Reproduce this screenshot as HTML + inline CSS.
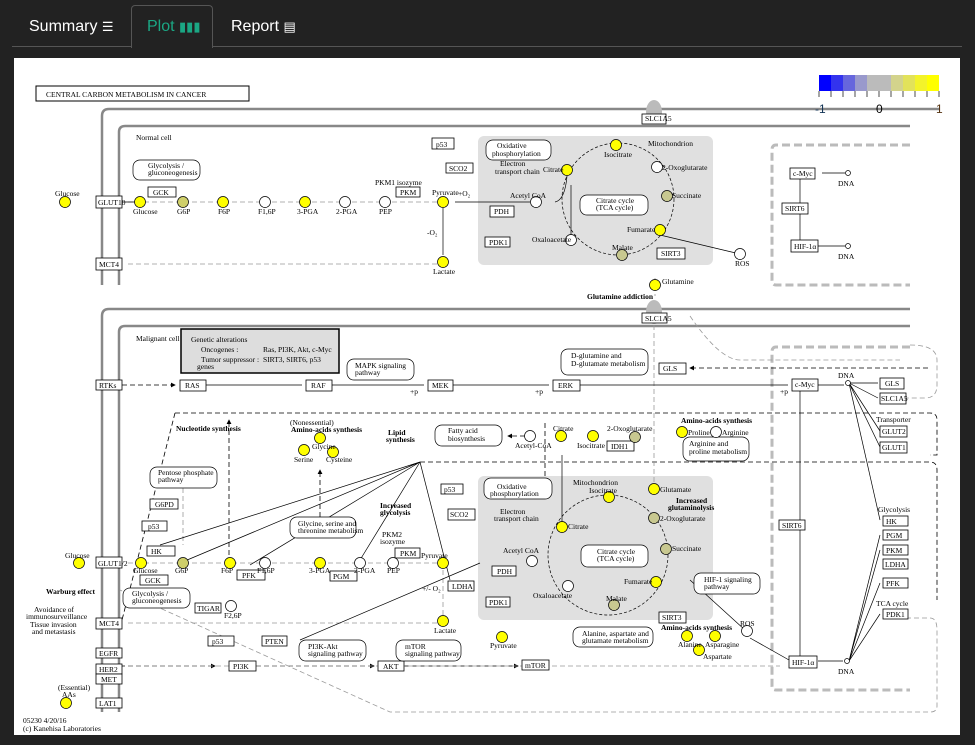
<!DOCTYPE html>
<html><head><meta charset="utf-8"><style>
html,body{margin:0;padding:0;background:#222;width:975px;height:745px;overflow:hidden}
.tab{position:absolute;top:1px;height:47px;font-family:"Liberation Sans",sans-serif;font-size:16px;color:#fff;line-height:52px}
svg text{font-family:"Liberation Serif",serif;font-size:7.5px;fill:#000}
</style></head><body>
<div style="position:absolute;left:12px;top:46px;width:950px;height:1px;background:#555"></div>
<div style="position:absolute;left:131px;top:5px;width:80px;height:42px;border:1px solid #555;border-bottom:none;border-radius:4px 4px 0 0;background:#222"></div>
<div class="tab" style="left:29px">Summary <span style="font-size:13px">☰</span></div>
<div class="tab" style="left:147px;color:#1ba784">Plot <span style="font-size:13px">▮▮▮</span></div>
<div class="tab" style="left:231px">Report <span style="font-size:13px">▤</span></div>
<svg style="position:absolute;left:0;top:0" width="975" height="745" viewBox="0 0 975 745">
<defs>
<marker id="a" markerWidth="6" markerHeight="6" refX="5" refY="3" orient="auto"><path d="M0,0L6,3L0,6z" fill="#000"/></marker>
</defs>
<rect x="14" y="58" width="946" height="677" fill="#fff"/>
<rect x="36" y="86" width="213" height="15" fill="#fff" stroke="#000"/>
<text x="46" y="97">CENTRAL CARBON METABOLISM IN CANCER</text>
<g>
<rect x="819" y="75" width="12" height="16" fill="#0000ff"/><rect x="831" y="75" width="12" height="16" fill="#3333ee"/><rect x="843" y="75" width="12" height="16" fill="#6666dd"/><rect x="855" y="75" width="12" height="16" fill="#9999cc"/><rect x="867" y="75" width="12" height="16" fill="#bbbbbb"/><rect x="879" y="75" width="12" height="16" fill="#bbbbbb"/><rect x="891" y="75" width="12" height="16" fill="#d3d38c"/><rect x="903" y="75" width="12" height="16" fill="#e2e25a"/><rect x="915" y="75" width="12" height="16" fill="#f3f32a"/><rect x="927" y="75" width="12" height="16" fill="#ffff00"/>
<path d="M819,91V97M831,91V97M843,91V97M855,91V97M867,91V97M879,91V97M891,91V97M903,91V97M915,91V97M927,91V97M939,91V97" stroke="#000" stroke-width="0.7"/>
</g>
<g fill="none" stroke="#888" stroke-width="2.5">
<path d="M102,285 V116 Q102,109 109,109 H940"/>
<path d="M119,285 V132 Q119,126 125,126 H910"/>
<path d="M102,712 V316 Q102,309 109,309 H910"/>
<path d="M119,712 V332 Q119,326 125,326 H910"/>
</g>
<text x="815" y="113" style="font-family:'Liberation Sans';font-size:12px;fill:#135">-1</text>
<text x="876" y="113" style="font-family:'Liberation Sans';font-size:12px">0</text>
<text x="936" y="113" style="font-family:'Liberation Sans';font-size:12px;fill:#531">1</text>
<rect x="478" y="136" width="235" height="129" rx="6" fill="#e0e0e0"/>
<rect x="478" y="476" width="235" height="144" rx="6" fill="#e0e0e0"/>
<ellipse cx="654" cy="112" rx="8" ry="12" fill="#bbb"/>
<ellipse cx="654" cy="312" rx="8" ry="12" fill="#bbb"/>
<g fill="none" stroke="#bbb" stroke-width="3" stroke-dasharray="8,4">
<path d="M910,145 H776 Q772,145 772,150 V280 Q772,285 776,285 H910"/>
<path d="M910,347 H776 Q772,347 772,352 V686 Q772,690 776,690 H910"/>
</g>
<g fill="none" stroke="#000" stroke-width="0.8" stroke-dasharray="5,3">
<path d="M175,413 H930 Q937,413 937,420 V455 H930"/>
<path d="M175,413 L122,620"/>
<path d="M420,462 H930 Q937,462 937,470 V600"/>
<path d="M545,476 V420"/>
<path d="M120,666 H215" marker-end="url(#a)"/>
<path d="M256,666 H374" marker-end="url(#a)"/>
<path d="M404,666 H518" marker-end="url(#a)"/>
<path d="M122,385 H175" marker-end="url(#a)"/>
<path d="M229,555 V420" marker-end="url(#a)"/>
<path d="M320,517 V470" marker-end="url(#a)"/>
<path d="M525,436 H508" marker-end="url(#a)"/>
<path d="M928,368 H690" marker-end="url(#a)"/>
</g>
<g fill="none" stroke="#999" stroke-width="0.8" stroke-dasharray="5,3">
<path d="M910,345 Q937,345 937,360 V385 Q937,398 925,398 H906"/>
<path d="M906,618 H930 Q937,618 937,630 V706 Q937,712 930,712 H390 L120,590"/>
<path d="M128,202 H440 M128,264 H440 M128,563 H440 M128,623 H440 M128,666 H780 M654,325 V486 M183,488 V545 M443,570 V615 M655,278 V296"/>
<path d="M690,316 Q720,360 740,360 H900"/>
</g>
<g fill="none" stroke="#000" stroke-width="0.7">
<path d="M122,202 H135 M455,202 H530 M443,208 V255 M822,173 H845 M818,246 H845 M800,179 V203 M800,214 V240"/>
<path d="M206,385 H302 M332,385 H424 M453,385 H549 M580,385 H788 M818,385 H844 M849,383 L878,383 M849,383 L878,398 M849,383 L880,431 M849,383 L880,447 M849,383 L880,520 M849,661 L880,535 M849,661 L880,550 M849,661 L880,583 M849,661 L880,614 M818,661 H843 M800,391 V520 M800,530 V656"/>
<path d="M555,202 Q565,200 567,176 M571,235 V185 M562,532 V455"/>
<circle cx="618" cy="199" r="56" stroke-dasharray="3,2"/>
<circle cx="608" cy="555" r="60" stroke-dasharray="3,2"/>
<path d="M420,462 L250,565 M420,462 L180,563 M420,462 L160,545 M420,462 L450,580 M420,462 L360,560 M300,640 L480,563 M690,580 L745,630 M750,638 L789,660 M660,235 L740,254"/>
</g>
<g fill="#fff" stroke="#000" stroke-width="0.8">
<rect x="96" y="196" width="26" height="12"/><rect x="148" y="187" width="28" height="10"/><rect x="396" y="187" width="24" height="10"/>
<rect x="96" y="258" width="26" height="12"/><rect x="432" y="138" width="22" height="11"/><rect x="446" y="163" width="27" height="10"/>
<rect x="490" y="206" width="24" height="11"/><rect x="485" y="237" width="25" height="10"/><rect x="657" y="248" width="28" height="11"/>
<rect x="642" y="114" width="24" height="10"/><rect x="790" y="168" width="25" height="11"/><rect x="782" y="203" width="26" height="11"/><rect x="791" y="240" width="27" height="12"/>
<rect x="642" y="313" width="25" height="10"/>
<rect x="181" y="329" width="158" height="44" fill="#ddd" stroke-width="1.5"/>
<rect x="96" y="380" width="26" height="10"/><rect x="180" y="380" width="26" height="11"/><rect x="306" y="380" width="26" height="11"/><rect x="428" y="380" width="25" height="11"/><rect x="553" y="380" width="27" height="11"/><rect x="792" y="379" width="26" height="12"/><rect x="880" y="378" width="24" height="11"/><rect x="880" y="393" width="26" height="11"/><rect x="659" y="363" width="27" height="11"/>
<rect x="607" y="441" width="27" height="10"/><rect x="880" y="426" width="27" height="11"/><rect x="880" y="442" width="27" height="11"/>
<rect x="883" y="516" width="25" height="10"/><rect x="883" y="530" width="25" height="10"/><rect x="883" y="545" width="25" height="10"/><rect x="883" y="559" width="25" height="10"/><rect x="883" y="578" width="25" height="10"/><rect x="883" y="609" width="25" height="10"/>
<rect x="779" y="520" width="26" height="10"/><rect x="492" y="566" width="24" height="10"/><rect x="486" y="597" width="24" height="10"/><rect x="659" y="612" width="27" height="11"/><rect x="522" y="660" width="27" height="10"/><rect x="789" y="656" width="28" height="12"/>
<rect x="441" y="484" width="22" height="10"/><rect x="448" y="509" width="27" height="11"/>
<rect x="96" y="557" width="26" height="11"/><rect x="147" y="546" width="28" height="10"/><rect x="140" y="575" width="28" height="10"/><rect x="237" y="570" width="28" height="10"/><rect x="330" y="571" width="27" height="10"/><rect x="395" y="548" width="25" height="10"/><rect x="448" y="581" width="26" height="10"/>
<rect x="195" y="603" width="26" height="10"/><rect x="208" y="636" width="26" height="10"/><rect x="262" y="636" width="25" height="10"/><rect x="229" y="661" width="27" height="10"/><rect x="378" y="661" width="26" height="10"/>
<rect x="96" y="618" width="26" height="11"/><rect x="96" y="648" width="26" height="10"/><rect x="96" y="664" width="26" height="10"/><rect x="96" y="674" width="26" height="10"/><rect x="96" y="698" width="26" height="10"/>
<rect x="150" y="499" width="28" height="10"/><rect x="142" y="521" width="25" height="10"/>
</g>
<g fill="#fff" stroke="#000" stroke-width="0.7">
<rect x="133" y="160" width="67" height="20" rx="7"/><rect x="486" y="140" width="65" height="20" rx="7"/><rect x="580" y="195" width="68" height="20" rx="7"/>
<rect x="561" y="349" width="87" height="26" rx="7"/><rect x="347" y="359" width="67" height="21" rx="7"/><rect x="435" y="425" width="67" height="21" rx="7"/><rect x="683" y="437" width="66" height="24" rx="7"/>
<rect x="484" y="478" width="68" height="21" rx="7"/><rect x="581" y="545" width="67" height="22" rx="7"/><rect x="694" y="573" width="66" height="21" rx="7"/><rect x="573" y="627" width="80" height="20" rx="7"/>
<rect x="150" y="467" width="67" height="21" rx="7"/><rect x="290" y="517" width="66" height="21" rx="7"/><rect x="123" y="588" width="67" height="20" rx="7"/><rect x="299" y="640" width="67" height="21" rx="7"/><rect x="396" y="640" width="65" height="21" rx="7"/>
</g>
<g stroke="#000" stroke-width="0.7">
<g fill="#ffff00">
<circle cx="65" cy="202" r="5.5"/><circle cx="140" cy="202" r="5.5"/><circle cx="223" cy="202" r="5.5"/><circle cx="305" cy="202" r="5.5"/><circle cx="443" cy="202" r="5.5"/><circle cx="443" cy="262" r="5.5"/>
<circle cx="567" cy="170" r="5.5"/><circle cx="616" cy="145" r="5.5"/><circle cx="660" cy="230" r="5.5"/><circle cx="655" cy="285" r="5.5"/>
<circle cx="561" cy="436" r="5.5"/><circle cx="593" cy="436" r="5.5"/><circle cx="682" cy="432" r="5.5"/><circle cx="654" cy="489" r="5.5"/><circle cx="609" cy="497" r="5.5"/><circle cx="562" cy="527" r="5.5"/><circle cx="656" cy="582" r="5.5"/>
<circle cx="687" cy="636" r="5.5"/><circle cx="715" cy="636" r="5.5"/><circle cx="699" cy="650" r="5.5"/><circle cx="502" cy="637" r="5.5"/>
<circle cx="320" cy="438" r="5.5"/><circle cx="304" cy="450" r="5.5"/><circle cx="333" cy="452" r="5.5"/>
<circle cx="79" cy="563" r="5.5"/><circle cx="141" cy="563" r="5.5"/><circle cx="230" cy="563" r="5.5"/><circle cx="320" cy="563" r="5.5"/><circle cx="443" cy="563" r="5.5"/><circle cx="443" cy="621" r="5.5"/><circle cx="66" cy="703" r="5.5"/>
</g>
<g fill="#cfcf6a"><circle cx="183" cy="202" r="5.5"/><circle cx="183" cy="563" r="5.5"/></g>
<g fill="#c8c890"><circle cx="667" cy="196" r="5.5"/><circle cx="622" cy="255" r="5.5"/><circle cx="635" cy="437" r="5.5"/><circle cx="654" cy="518" r="5.5"/><circle cx="666" cy="549" r="5.5"/><circle cx="614" cy="605" r="5.5"/></g>
<g fill="#fff">
<circle cx="265" cy="202" r="5.5"/><circle cx="345" cy="202" r="5.5"/><circle cx="385" cy="202" r="5.5"/><circle cx="536" cy="202" r="5.5"/><circle cx="657" cy="167" r="5.5"/><circle cx="571" cy="240" r="5.5"/><circle cx="740" cy="254" r="5.5"/>
<circle cx="848" cy="173" r="2.5"/><circle cx="848" cy="246" r="2.5"/><circle cx="848" cy="383" r="2.5"/><circle cx="847" cy="661" r="2.5"/>
<circle cx="530" cy="436" r="5.5"/><circle cx="716" cy="432" r="5.5"/><circle cx="568" cy="586" r="5.5"/><circle cx="532" cy="561" r="5.5"/><circle cx="747" cy="631" r="5.5"/>
<circle cx="265" cy="563" r="5.5"/><circle cx="360" cy="563" r="5.5"/><circle cx="393" cy="563" r="5.5"/><circle cx="231" cy="606" r="5.5"/>
</g>
</g>
<g>
<text x="136" y="140">Normal cell</text>
<text x="148" y="168">Glycolysis /</text><text x="148" y="175">gluconeogenesis</text>
<text x="55" y="196" font-size="6">Glucose</text><text x="98" y="205">GLUT10</text><text x="153" y="195">GCK</text><text x="133" y="214">Glucose</text><text x="177" y="214">G6P</text><text x="218" y="214">F6P</text><text x="258" y="214">F1,6P</text><text x="297" y="214">3-PGA</text><text x="336" y="214">2-PGA</text><text x="379" y="214">PEP</text><text x="400" y="195">PKM</text><text x="375" y="185">PKM1 isozyme</text><text x="432" y="195">Pyruvate</text><text x="458" y="196">+O₂</text><text x="427" y="235">-O₂</text><text x="433" y="274">Lactate</text><text x="99" y="267">MCT4</text>
<text x="436" y="147">p53</text><text x="449" y="171">SCO2</text><text x="497" y="148">Oxidative</text><text x="492" y="156">phosphorylation</text><text x="500" y="166">Electron</text><text x="495" y="174">transport chain</text>
<text x="543" y="172">Citrate</text><text x="604" y="157">Isocitrate</text><text x="662" y="170">2-Oxoglutarate</text><text x="672" y="198">Succinate</text><text x="627" y="232">Fumarate</text><text x="612" y="250">Malate</text><text x="532" y="242">Oxaloacetate</text><text x="510" y="198">Acetyl CoA</text><text x="494" y="214">PDH</text><text x="489" y="245">PDK1</text><text x="661" y="256">SIRT3</text><text x="735" y="266">ROS</text><text x="596" y="203">Citrate cycle</text><text x="596" y="210">(TCA cycle)</text><text x="648" y="146">Mitochondrion</text>
<text x="645" y="121">SLC1A5</text><text x="793" y="176">c-Myc</text><text x="838" y="186">DNA</text><text x="785" y="211">SIRT6</text><text x="794" y="249">HIF-1α</text><text x="838" y="259">DNA</text>
<text x="662" y="284">Glutamine</text><text x="587" y="299" font-weight="bold">Glutamine addiction</text>
<text x="645" y="321">SLC1A5</text><text x="136" y="341">Malignant cell</text><text x="191" y="342">Genetic alterations</text><text x="201" y="352">Oncogenes :</text><text x="263" y="352">Ras, PI3K, Akt, c-Myc</text><text x="201" y="362">Tumor suppressor :</text><text x="263" y="362">SIRT3, SIRT6, p53</text><text x="197" y="369">genes</text>
<text x="99" y="388">RTKs</text><text x="185" y="388">RAS</text><text x="311" y="388">RAF</text><text x="432" y="388">MEK</text><text x="558" y="388">ERK</text><text x="410" y="394">+p</text><text x="535" y="394">+p</text><text x="780" y="394">+p</text><text x="355" y="368">MAPK signaling</text><text x="355" y="375">pathway</text><text x="571" y="358">D-glutamine and</text><text x="571" y="366">D-glutamate metabolism</text><text x="663" y="371">GLS</text>
<text x="795" y="387">c-Myc</text><text x="838" y="378">DNA</text><text x="885" y="386">GLS</text><text x="881" y="401">SLC1A5</text><text x="876" y="422">Transporter</text><text x="882" y="434">GLUT2</text><text x="882" y="450">GLUT1</text>
<text x="176" y="431" font-weight="bold">Nucleotide synthesis</text><text x="290" y="425">(Nonessential)</text><text x="291" y="432" font-weight="bold">Amino-acids synthesis</text><text x="312" y="449">Glycine</text><text x="294" y="462">Serine</text><text x="326" y="462">Cysteine</text><text x="388" y="435" font-weight="bold">Lipid</text><text x="386" y="442" font-weight="bold">synthesis</text><text x="448" y="433">Fatty acid</text><text x="448" y="441">biosynthesis</text>
<text x="515" y="448">Acetyl-CoA</text><text x="553" y="431">Citrate</text><text x="577" y="448">Isocitrate</text><text x="611" y="449">IDH1</text><text x="607" y="431">2-Oxoglutarate</text><text x="681" y="423" font-weight="bold">Amino-acids synthesis</text><text x="688" y="435">Proline</text><text x="722" y="435">Arginine</text><text x="689" y="446">Arginine and</text><text x="689" y="454">proline metabolism</text>
<text x="158" y="475">Pentose phosphate</text><text x="158" y="482">pathway</text><text x="155" y="507">G6PD</text><text x="148" y="529">p53</text><text x="444" y="492">p53</text><text x="450" y="517">SCO2</text><text x="380" y="508" font-weight="bold">Increased</text><text x="380" y="515" font-weight="bold">glycolysis</text><text x="382" y="537">PKM2</text><text x="380" y="544">isozyme</text>
<text x="497" y="489">Oxidative</text><text x="490" y="496">phosphorylation</text><text x="500" y="514">Electron</text><text x="494" y="521">transport chain</text><text x="573" y="485">Mitochondrion</text><text x="589" y="493">Isocitrate</text><text x="660" y="492">Glutamate</text><text x="676" y="503" font-weight="bold">Increased</text><text x="668" y="510" font-weight="bold">glutaminolysis</text><text x="660" y="521">2-Oxoglutarate</text><text x="568" y="529">Citrate</text><text x="672" y="551">Succinate</text><text x="624" y="584">Fumarate</text><text x="606" y="601">Malate</text><text x="533" y="598">Oxaloacetate</text><text x="503" y="553">Acetyl CoA</text><text x="597" y="554">Citrate cycle</text><text x="597" y="561">(TCA cycle)</text><text x="497" y="574">PDH</text><text x="489" y="605">PDK1</text><text x="662" y="620">SIRT3</text><text x="704" y="582">HIF-1 signaling</text><text x="704" y="589">pathway</text><text x="740" y="626">ROS</text>
<text x="582" y="636">Alanine, aspartate and</text><text x="582" y="643">glutamate metabolism</text><text x="661" y="630" font-weight="bold">Amino-acids synthesis</text><text x="678" y="647">Alanine</text><text x="705" y="647">Asparagine</text><text x="703" y="659">Aspartate</text><text x="490" y="648">Pyruvate</text><text x="525" y="668">mTOR</text><text x="792" y="665">HIF-1α</text><text x="838" y="674">DNA</text>
<text x="782" y="528">SIRT6</text><text x="878" y="512">Glycolysis</text><text x="886" y="524">HK</text><text x="886" y="538">PGM</text><text x="886" y="553">PKM</text><text x="885" y="567">LDHA</text><text x="886" y="586">PFK</text><text x="876" y="606">TCA cycle</text><text x="886" y="617">PDK1</text>
<text x="65" y="558">Glucose</text><text x="98" y="566">GLUT1/2</text><text x="133" y="573">Glucose</text><text x="175" y="573">G6P</text><text x="221" y="573">F6P</text><text x="257" y="573">F1,6P</text><text x="309" y="573">3-PGA</text><text x="354" y="573">2-PGA</text><text x="387" y="573">PEP</text><text x="151" y="554">HK</text><text x="145" y="583">GCK</text><text x="242" y="578">PFK</text><text x="333" y="579">PGM</text><text x="400" y="556">PKM</text><text x="421" y="558">Pyruvate</text><text x="452" y="589">LDHA</text><text x="422" y="591">+/- O₂</text><text x="434" y="633">Lactate</text>
<text x="197" y="611">TIGAR</text><text x="224" y="618">F2,6P</text><text x="212" y="644">p53</text><text x="265" y="644">PTEN</text><text x="233" y="669">PI3K</text><text x="383" y="669">AKT</text><text x="308" y="649">PI3K-Akt</text><text x="308" y="656">signaling pathway</text><text x="405" y="649">mTOR</text><text x="405" y="656">signaling pathway</text>
<text x="132" y="596">Glycolysis /</text><text x="132" y="603">gluconeogenesis</text><text x="298" y="526">Glycine, serine and</text><text x="298" y="533">threonine metabolism</text>
<text x="46" y="594" font-weight="bold">Warburg effect</text><text x="34" y="612">Avoidance of</text><text x="26" y="619">immunosurveillance</text><text x="30" y="627">Tissue invasion</text><text x="32" y="634">and metastasis</text>
<text x="99" y="626">MCT4</text><text x="99" y="656">EGFR</text><text x="99" y="672">HER2</text><text x="101" y="682">MET</text><text x="99" y="706">LAT1</text><text x="58" y="690">(Essential)</text><text x="62" y="697">AAs</text>
<text x="23" y="723">05230 4/20/16</text><text x="23" y="731">(c) Kanehisa Laboratories</text>
</g>
</svg>
</body></html>
